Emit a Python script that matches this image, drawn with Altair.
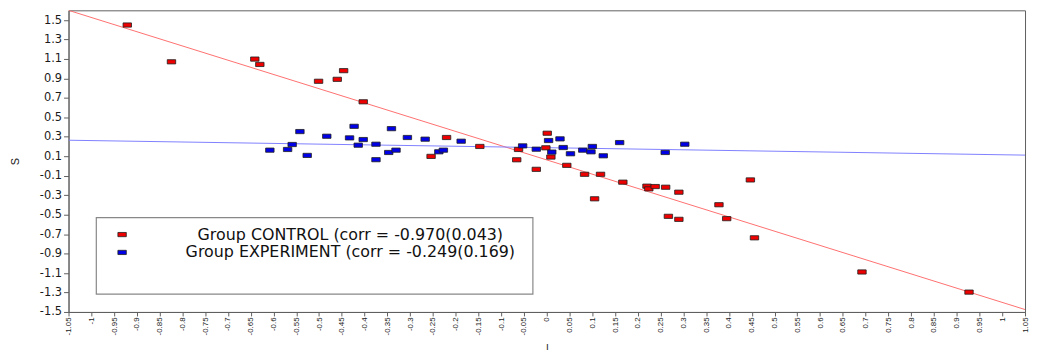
import altair as alt
import pandas as pd

# ---------------- data ----------------
control_label = "Group CONTROL (corr = -0.970(0.043)"
experiment_label = "Group EXPERIMENT (corr = -0.249(0.169)"

control_I = [-0.921, -0.824, -0.641, -0.630, -0.501, -0.460, -0.446, -0.403,
             -0.220, -0.254, -0.147, -0.062, -0.066, -0.023, 0.001, -0.002,
             0.009, 0.044, 0.083, 0.118, 0.105, 0.167, 0.220, 0.224, 0.238,
             0.261, 0.290, 0.267, 0.290, 0.378, 0.395, 0.447, 0.456, 0.692, 0.927]
control_S = [1.449, 1.071, 1.099, 1.044, 0.871, 0.891, 0.980, 0.660,
             0.293, 0.099, 0.201, 0.170, 0.064, -0.034, 0.337, 0.187,
             0.092, 0.007, -0.085, -0.085, -0.337, -0.166, -0.207, -0.235, -0.211,
             -0.218, -0.269, -0.517, -0.548, -0.398, -0.541, -0.143, -0.738, -1.089, -1.296]

experiment_I = [-0.608, -0.569, -0.559, -0.542, -0.526, -0.483, -0.433, -0.423,
                -0.414, -0.403, -0.375, -0.375, -0.347, -0.341, -0.331, -0.306,
                -0.267, -0.237, -0.227, -0.188, -0.053, -0.023, 0.004, 0.029,
                0.011, 0.036, 0.052, 0.079, 0.097, 0.100, 0.124, 0.160, 0.260, 0.303]
experiment_S = [0.163, 0.170, 0.221, 0.354, 0.109, 0.306, 0.289, 0.408,
                0.214, 0.272, 0.224, 0.065, 0.139, 0.384, 0.163, 0.293,
                0.276, 0.146, 0.163, 0.255, 0.207, 0.173, 0.262, 0.279,
                0.143, 0.190, 0.126, 0.163, 0.146, 0.201, 0.105, 0.241, 0.139, 0.224]

# fitted regression lines (end points at the edges of the x range)
fit_I = [-1.05, 1.05]
control_fit_S = [1.600, -1.475]
experiment_fit_S = [0.265, 0.112]

x_ticks = [-1.05, -1.0, -0.95, -0.9, -0.85, -0.8, -0.75, -0.7, -0.65, -0.6,
           -0.55, -0.5, -0.45, -0.4, -0.35, -0.3, -0.25, -0.2, -0.15, -0.1,
           -0.05, 0.0, 0.05, 0.1, 0.15, 0.2, 0.25, 0.3, 0.35, 0.4, 0.45, 0.5,
           0.55, 0.6, 0.65, 0.7, 0.75, 0.8, 0.85, 0.9, 0.95, 1.0, 1.05]
y_ticks = [-1.5, -1.3, -1.1, -0.9, -0.7, -0.5, -0.3, -0.1, 0.1, 0.3,
           0.5, 0.7, 0.9, 1.1, 1.3, 1.5]

# ---------------- tables ----------------
points = pd.DataFrame({
    "I": control_I + experiment_I,
    "S": control_S + experiment_S,
    "group": [control_label] * len(control_I) + [experiment_label] * len(experiment_I),
})
fit_control = pd.DataFrame({"I": fit_I, "S": control_fit_S})
fit_experiment = pd.DataFrame({"I": fit_I, "S": experiment_fit_S})
box = pd.DataFrame({"k": [0]})

x_scale = alt.Scale(domain=[-1.05, 1.05], nice=False, zero=False)
y_scale = alt.Scale(domain=[-1.5, 1.6], nice=False, zero=False)

rect_path = "M-1,-0.5L1,-0.5L1,0.5L-1,0.5Z"

x_enc = alt.X("I:Q", scale=x_scale, title="I",
              axis=alt.Axis(values=x_ticks, tickCount=100,
                            labelExpr="replace(format(datum.value, '.2~f'), '\u2212', '-')",
                            labelAngle=270, labelFont="Liberation Sans", labelFontSize=8,
                            labelPadding=1, tickSize=4, grid=False,
                            labelOverlap=False, labelBound=False, labelFlush=False,
                            titleFont="Liberation Sans", titleFontSize=10,
                            titleFontWeight="normal", titleY=30, titleX=482))
y_enc = alt.Y("S:Q", scale=y_scale, title="S",
              axis=alt.Axis(values=y_ticks, tickCount=100,
                            labelExpr="replace(format(datum.value, '.1f'), '\u2212', '-')",
                            labelFont="DejaVu Sans", labelFontSize=11.5,
                            labelPadding=2, tickSize=5, grid=False,
                            labelOverlap=False, labelBound=False, labelFlush=False,
                            titleFont="Liberation Sans", titleFontSize=11,
                            titleFontWeight="normal", titleAngle=270,
                            titleX=-48, titleY=152))

line_control = alt.Chart(fit_control).mark_line(color="#ff7070", strokeWidth=1, clip=True).encode(
    x=x_enc, y=y_enc)
line_experiment = alt.Chart(fit_experiment).mark_line(color="#8080ff", strokeWidth=1, clip=True).encode(
    x="I:Q", y="S:Q")

pts = alt.Chart(points).mark_point(shape=rect_path, filled=True, size=72,
                                   stroke="#202020", strokeWidth=0.8, opacity=1).encode(
    x="I:Q",
    y="S:Q",
    fill=alt.Fill("group:N",
                  scale=alt.Scale(domain=[control_label, experiment_label],
                                  range=["#ee0000", "#0000e6"]),
                  legend=alt.Legend(title=None, orient="none", legendX=46, legendY=218,
                                    direction="vertical",
                                    labelFont="DejaVu Sans", labelFontSize=16,
                                    labelColor="#111", labelLimit=0,
                                    labelAlign="center", labelOffset=222,
                                    symbolType=rect_path, symbolSize=72,
                                    symbolStrokeColor="#202020", symbolStrokeWidth=0.8,
                                    rowPadding=2, padding=0)),
)

legend_box = alt.Chart(box).mark_rect(fill="white", stroke="#888888", strokeWidth=1.2).encode(
    x=alt.value(28), x2=alt.value(468), y=alt.value(209), y2=alt.value(286))

chart = alt.layer(legend_box, line_control, line_experiment, pts).properties(
    width=964, height=304,
    padding={"left": 61, "top": 1, "right": 4, "bottom": 39},
    autosize=alt.AutoSizeParams(type="none"),
).configure_view(
    stroke="#606060", strokeWidth=1
).configure_axis(
    domainColor="#606060", tickColor="#606060", labelColor="#1a1a1a", titleColor="#1a1a1a"
)

chart.save("out.html", embed_options={"renderer": "svg", "actions": False})
